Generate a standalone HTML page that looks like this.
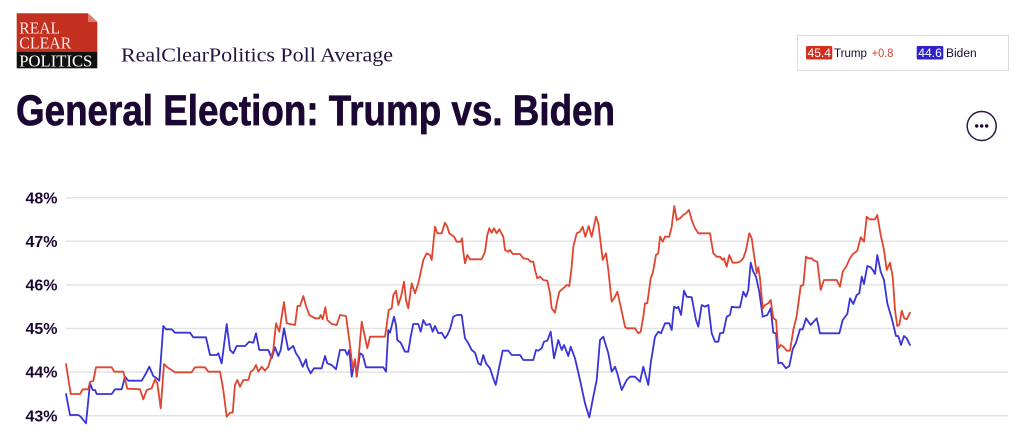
<!DOCTYPE html>
<html>
<head>
<meta charset="utf-8">
<style>
html,body{margin:0;padding:0;background:#fff;}
body{width:1024px;height:445px;overflow:hidden;}
svg{display:block;}
text{font-family:"Liberation Sans",sans-serif;}
.serif{font-family:"Liberation Serif",serif;}
</style>
</head>
<body>
<svg width="1024" height="445" viewBox="0 0 1024 445" xmlns="http://www.w3.org/2000/svg">
  <!-- Logo -->
  <polygon points="16.7,13.3 88,13.3 97.3,22 97.3,51.7 16.7,51.7" fill="#c4301f"/>
  <polygon points="88,13.3 97.3,22 88,22" fill="#e07a6c"/>
  <rect x="16.7" y="51.7" width="80.6" height="16.6" fill="#111"/>
  <text class="serif" x="19.3" y="33.3" font-size="17" fill="#fbe9e6" textLength="40.7" lengthAdjust="spacingAndGlyphs">REAL</text>
  <text class="serif" x="19.3" y="48.3" font-size="17" fill="#fbe9e6" textLength="52" lengthAdjust="spacingAndGlyphs">CLEAR</text>
  <text class="serif" x="19.3" y="66.5" font-size="17" fill="#ffffff" textLength="73" lengthAdjust="spacingAndGlyphs">POLITICS</text>

  <!-- Subtitle -->
  <text class="serif" x="121" y="61.7" font-size="20" fill="#24123f" textLength="272" lengthAdjust="spacingAndGlyphs">RealClearPolitics Poll Average</text>

  <!-- Title -->
  <text x="16" y="125" font-size="43" font-weight="bold" fill="#1c0733" stroke="#1c0733" stroke-width="0.7" textLength="599" lengthAdjust="spacingAndGlyphs">General Election: Trump vs. Biden</text>

  <!-- Legend -->
  <rect x="797.5" y="35.5" width="211" height="35" fill="#fff" stroke="#dcdcdc" stroke-width="1"/>
  <rect x="806" y="46" width="26.3" height="13.5" rx="1.5" fill="#d0301d"/>
  <text x="807.5" y="57" font-size="11.5" fill="#fff" textLength="23.5" lengthAdjust="spacingAndGlyphs">45.4</text>
  <text x="834" y="57" font-size="11.5" fill="#1c0733" textLength="33" lengthAdjust="spacingAndGlyphs">Trump</text>
  <text x="871.7" y="57" font-size="11.5" fill="#d63b25" textLength="21.6" lengthAdjust="spacingAndGlyphs">+0.8</text>
  <rect x="916.7" y="46" width="26.6" height="13.5" rx="1.5" fill="#2e22c8"/>
  <text x="918.3" y="57" font-size="11.5" fill="#fff" textLength="23.5" lengthAdjust="spacingAndGlyphs">44.6</text>
  <text x="946" y="57" font-size="11.5" fill="#1c0733" textLength="30.7" lengthAdjust="spacingAndGlyphs">Biden</text>

  <!-- More button -->
  <circle cx="981.7" cy="126" r="14.5" fill="#fff" stroke="#2a1845" stroke-width="1.5"/>
  <circle cx="976.7" cy="126" r="1.7" fill="#1c0733"/>
  <circle cx="981.7" cy="126" r="1.7" fill="#1c0733"/>
  <circle cx="986.7" cy="126" r="1.7" fill="#1c0733"/>

  <!-- Grid -->
  <g stroke="#e3e3e3" stroke-width="1.5">
    <line x1="66" y1="197.7" x2="1008" y2="197.7"/>
    <line x1="66" y1="241.3" x2="1008" y2="241.3"/>
    <line x1="66" y1="284.9" x2="1008" y2="284.9"/>
    <line x1="66" y1="328.5" x2="1008" y2="328.5"/>
    <line x1="66" y1="372.1" x2="1008" y2="372.1"/>
    <line x1="66" y1="415.7" x2="1008" y2="415.7"/>
  </g>
  <g font-size="16" font-weight="bold" fill="#1c0733" text-anchor="end">
    <text x="57.5" y="203.3">48%</text>
    <text x="57.5" y="246.9">47%</text>
    <text x="57.5" y="290.5">46%</text>
    <text x="57.5" y="334.1">45%</text>
    <text x="57.5" y="377.7">44%</text>
    <text x="57.5" y="421.3">43%</text>
  </g>

  <!-- Biden -->
  <polyline fill="none" stroke="#3a33d6" stroke-width="1.8" stroke-linejoin="round" stroke-linecap="round" points="66,394 70,415 78.3,415 80.7,416.7 83.3,420 86,423.3 90,383.3 92.7,390 95,390 96.7,394 111.7,394 115,389.3 121.7,389.3 125,376.7 128.3,380.7 141.7,380.7 146,373.3 149.3,366.7 153.3,376 156.7,378.3 159.3,380.7 163.3,326 166,329.3 171.7,329.3 175,332.7 190,332.7 193.3,337.3 206,337.3 210,355 216.7,355 218.3,353.3 221.7,363.3 226.7,324 230,350 233.3,353.3 236.7,346 245,346 249.3,341.7 253.3,342.7 256,333.3 259.3,350 268.3,350 271.7,358.3 275,347.3 278.3,356 280.7,350 284,328.3 288.3,350 293.3,346 296,353.3 299.3,358.3 302.7,366.7 306,359.3 307.3,366.7 310.7,373.3 314,368.3 321.7,368.3 325,356 327.3,363.3 331.7,365 336,369.3 340,350 345,350 347.3,355 349.3,350 351.7,376.7 355,359.3 356.7,376.7 360,353.3 362.7,355 366,367.3 383.3,367.3 386,371.7 388.3,330 390,332.7 394,316.7 396,325 397.3,340 400.7,342.7 405,351.7 408.3,351.7 410.7,336.7 413.3,324 418.3,324 420.7,331.7 423.3,320 426,325 430,324 432.7,331.7 435,326 438.3,333.3 441.7,332.7 445,338.3 447.3,335 450,329.3 453.3,316.7 456.7,315 461.7,315 463.3,326.7 465,338.3 468.3,343.3 471.7,350 475,352.7 478.3,363.3 480.7,365 483.3,355 486,363.3 490,368.3 492.7,376.7 495.7,385 499.3,366.7 502.7,350.7 508.3,350.7 511.7,355 520,355 523.3,360 533.3,360 536,350 538.3,350.7 541.7,348.3 544,341.7 547.3,340.7 550.7,331.7 554,358.3 558.3,340 561.7,350 564,345 566,350 568.3,356 570.7,346.7 575,358.3 580,380 585,403.3 589.3,417.3 593.3,396.7 596.7,380 600,340 603.3,336.7 608.3,353.3 611.7,371.7 615,366.7 617.3,373.3 621.7,390 626.7,380 630,376.7 635,376.7 640,381.7 643.3,366.7 646,376.7 648.3,385 650.7,363.3 655,336.7 658.3,331.7 661,333.3 665,323.3 669.3,323.3 671.7,330 674,306.7 676.7,308.3 678.3,306.7 681,315 684,290.7 686.7,296.7 691.7,297.3 696,320 698.3,326.7 701.7,305 705,306.7 708.3,305 711.7,333.3 715,341.7 718.3,341.7 720,333.3 723.3,332.7 726.7,316.7 730,315 731.7,306.7 735,307.3 740,307.3 743.3,291.7 746,296.7 748.3,290 750.7,262.7 753.3,271.7 756,276.7 759.3,291.7 762.7,316.7 767.3,315 770.7,308.3 773.3,332.7 776,333.3 778.3,363.3 781.7,362.7 786,368.3 789.3,366 792.7,349.3 796,342.7 800,329.3 802.7,329.3 806,318.3 810.7,325 816.7,318.3 820,333.3 839.3,333.3 842.7,320 847.3,314 850,298.3 853.3,304 856.7,295 859.3,293.3 861.7,276.7 864,284 867.3,266 870.7,267.3 873.3,270.7 875,274 877.3,255 880.7,271.7 884,280 887.3,303.3 891.7,318.3 896,336 898.3,336 901,345 904,336 906.7,338.3 910,345"/>

  <!-- Trump -->
  <polyline fill="none" stroke="#e0452f" stroke-width="1.8" stroke-linejoin="round" stroke-linecap="round" points="66,364 70.7,394 80,394 82.7,389.3 88.3,389.3 90,381.7 93.3,381 96,367.3 111.7,367.3 114.3,371.7 123.3,371.7 127.3,388.7 140,389.3 143.3,399.3 146.7,390 151.7,388.3 155,379.3 157.3,383.3 160.7,408.3 164,364 167.3,367.3 175,372.3 191.7,372.3 195,367.3 205,367.3 208.3,371.7 220,371.7 223.3,390 226.7,416.7 230,412.7 232.7,412.7 235,385 237.3,380 240,386.7 243.3,380 248.3,380 250.7,371.7 253.3,370 256,365 258.3,371.7 261.7,366.7 265,370.7 268.3,366.7 273.3,350 276,323.3 279.3,331.7 284,302 286.7,323.3 295,325 297.5,306 300,306 303.3,296 306,306 309.3,315 315,318.3 319.3,318.3 320.7,315 322.7,319.3 325.3,307.3 327.3,320 331.7,324 336.7,325 340,315 346,316 349.3,340 352.7,368.3 355,359.3 356.7,376.7 359,353.3 361.7,321.7 364,332.7 367.3,348.3 370,336.7 385,336.7 386.7,325 388.7,310 391.7,308.3 393.3,295 396,290.7 398.3,305 401,296.7 404,281.7 406,300 408.3,308.3 411.7,283.3 415,293.3 418.3,283.3 423.3,260 426.7,253.3 430,255 431.7,260 435,226.7 437.3,233.3 441.7,233.3 445,222.7 447.3,226.7 449.3,233.3 454,236.7 456.7,241.7 460.7,241.7 462,238.3 463.3,251.7 465,263.3 467.3,255 470,259.3 481.7,259.3 485,251.7 487.3,235 489.3,228.3 491.7,232.7 494,228.3 496.7,233.3 499.3,229.3 503.3,236.7 505,250 508.3,251.7 510,250 512.7,254 520,254 523.3,258.3 528.3,259.3 530.7,261.7 533.3,261.7 535,270 537.3,278.3 540,276.7 543.3,280 547.3,280.7 550,293.3 551.7,308.3 555,312.7 556.7,303.3 559.3,291.7 563.3,288.3 566.7,285 569.3,286 571.7,266.7 573.3,246.7 576.7,233.3 580,231.7 582.7,226.7 585.3,236.7 588.7,226 591.7,236.7 596,216.7 598.3,223.3 600.7,243.3 602.7,260 606,253.3 608.3,270 611.7,301.7 615,296.7 617.3,291.7 620,303.3 625,326.7 626.7,328.3 635,328.3 638.3,333.3 640.7,331.7 643.3,316.7 645,303.3 647.3,303.3 650.7,278.3 652.7,273.3 656,255 658.3,253.3 660,236.7 662.7,241.7 665,236.7 669.3,236.7 671.7,226.7 674.3,206 676.7,220 680,218.3 683.3,215 686,213.3 689,210 691.7,220 695,228.3 698.3,233.3 710,233.3 713.3,253.3 716.7,256.7 720,256.7 722.7,260 724,258.3 726.7,266.7 729.3,255 732.7,262.7 736.7,262.7 740,261.7 743.3,258.3 746,250 749.3,233.3 751.7,238.3 754,255 756.7,273.3 758.3,267.3 760,278.3 762.7,308.3 765,305 768.3,303.3 770.7,300 773.3,318.3 776,320 778.3,348.3 780.7,345 783.3,346.7 786.7,350.7 790,350.7 793.3,330 796.7,316 800.7,286 803.3,285 806,256.7 808.3,258.3 811.7,258.3 814,260.7 817.3,261.7 820.7,290 824,280 836.7,280 840,286.7 842.7,271.7 846,266.7 850,258.3 852.7,254.3 857.3,250.7 860.7,237.3 864,241.7 866.7,216.7 869.3,219.3 875,219.3 877.3,215 880.7,235 884,250 886.7,270 890,262.7 892.7,276.7 895,310 897.3,326 899.3,325 901.7,310.7 904.3,318.3 906.7,319.3 910,312.7"/>
</svg>
</body>
</html>
